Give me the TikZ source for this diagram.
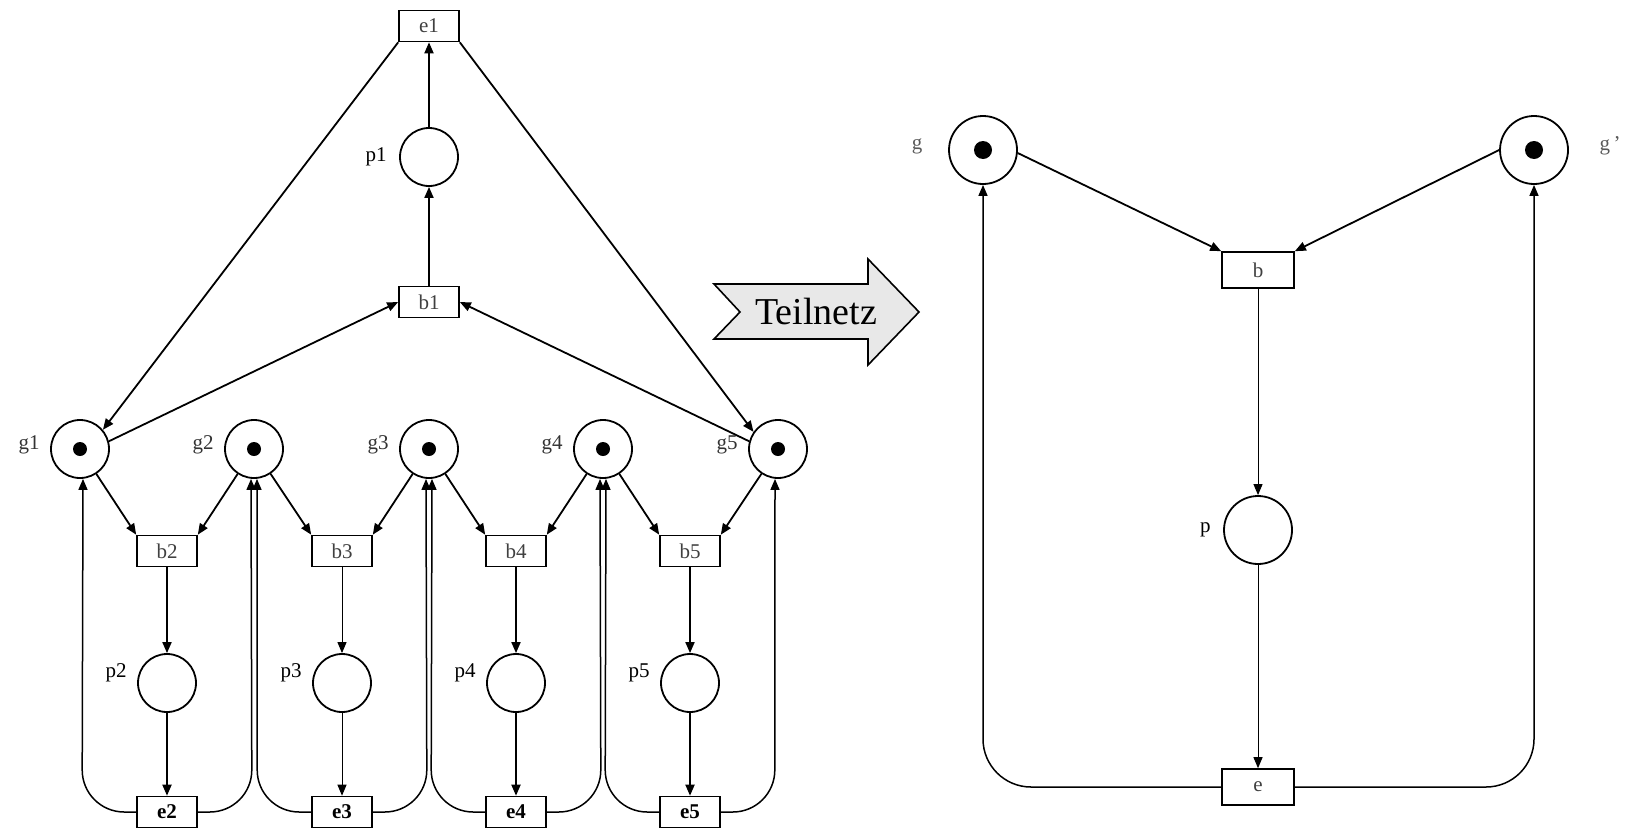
\documentclass[tikz,border=0pt]{standalone}
\usepackage{fontspec}
\setmainfont{Liberation Serif}
\usetikzlibrary{arrows.meta,positioning}
\tikzset{
  place/.style={circle, draw, line width=0.9pt, minimum size=29pt, inner sep=0pt},
  bigplace/.style={place, minimum size=34pt},
  marked/.style={path picture={\fill (path picture bounding box.center) circle (3.5pt);}},
  bigmarked/.style={path picture={\fill (path picture bounding box.center) circle (4.5pt);}},
  trans/.style={rectangle, draw, line width=0.8pt, minimum width=30pt,
    minimum height=15.5pt, inner sep=0pt, text=black!75,
    font=\fontsize{10.5}{12}\selectfont},
  bigtrans/.style={trans, minimum width=36pt, minimum height=18pt},
  lbl/.style={font=\fontsize{10.5}{12}\selectfont, inner sep=1pt},
  flow/.style={-{Triangle[length=5.5pt,width=4.5pt]}, line width=0.9pt},
  flowthin/.style={flow, line width=0.5pt},
  ret/.style={flow, line width=0.75pt},
}
\begin{document}
\begin{tikzpicture}[x=0.5pt, y=-0.5pt]
\useasboundingbox (0,0) rectangle (1625,830);

% full net: the five g places
\foreach \i/\x in {1/80,2/254,3/429,4/603,5/778} {
  \node[place, marked] (g\i) at (\x,449) {};
  \node[lbl, text=black!80, left=4pt of g\i, yshift=2pt] (lg\i) {g\i};
}

% top branch
\node[trans] (e1) at (429,26) {e1};
\node[place] (p1) at (429,157) {};
\node[lbl, left=5pt of p1] (lp1) {p1};
\node[trans] (b1) at (429,302) {b1};
\draw[flow] (b1) -- (p1);
\draw[flow] (p1) -- (e1);
\draw[flow] (e1.south west) -- (g1.40);
\draw[flow] (e1.south east) -- (g5.145);
\draw[flow] (g1.15) -- (b1.west);
\draw[flow] (g5.165) -- (b1.east);

% lower branches between neighbouring g places
\foreach \i/\j/\x/\w in {2/1/167/flow,3/2/342/flowthin,4/3/516/flow,5/4/690/flow} {
  \node[trans] (b\i) at (\x,551) {b\i};
  \node[place] (p\i) at (\x,683) {};
  \node[lbl, left=4pt of p\i, yshift=5pt] (lp\i) {p\i};
  \node[trans, text=black, font=\fontsize{10.5}{12}\selectfont\bfseries] (e\i) at (\x,812) {e\i};
  \draw[flow] (g\j) -- (b\i.north west);
  \draw[flow] (g\i) -- (b\i.north east);
  \draw[\w] (b\i) -- (p\i);
  \draw[\w] (p\i) -- (e\i);
  \draw[ret] (e\i.west) -- ++(-6pt,0) arc[start angle=270, end angle=180, radius=21pt]
    -- ([xshift=1.5pt]g\j.south);
  \draw[ret] (e\i.east) -- ++(6pt,0) arc[start angle=270, end angle=360, radius=21pt]
    -- ([xshift=-1.5pt]g\i.south);
}

% arrow between the two nets
\filldraw[fill=black!9, line width=0.8pt] (714,284) -- (868,284) -- (868,259) -- (919,312)
  -- (868,365) -- (868,339) -- (714,339) -- (740,312) -- cycle;
\node[font=\fontsize{19}{22}\selectfont] (teil) at (816,311) {Teilnetz};

% sub net
\node[bigplace, bigmarked] (g) at (983,150) {};
\node[bigplace, bigmarked] (gg) at (1534,150) {};
\node[lbl, text=black!65] (lg) at (917,146) {g};
\node[lbl, text=black!65] (lgg) at (1610,146) {g\,’};
\node[bigtrans] (b) at (1258,270) {b};
\node[bigplace] (p) at (1258,530) {};
\node[lbl, left=5pt of p] (lp) {p};
\node[bigtrans] (e) at (1258,787) {e};
\draw[flow] (g.-5) -- (b.north west);
\draw[flow] (gg.west) -- (b.north east);
\draw[flowthin] (b) -- (p);
\draw[flowthin] (p) -- (e);
\draw[ret] (e.west) -- ([xshift=24pt]g.south |- e.west)
  arc[start angle=270, end angle=180, radius=24pt] -- (g.south);
\draw[ret] (e.east) -- ([xshift=-24pt]gg.south |- e.east)
  arc[start angle=270, end angle=360, radius=24pt] -- (gg.south);
\end{tikzpicture}
\end{document}
